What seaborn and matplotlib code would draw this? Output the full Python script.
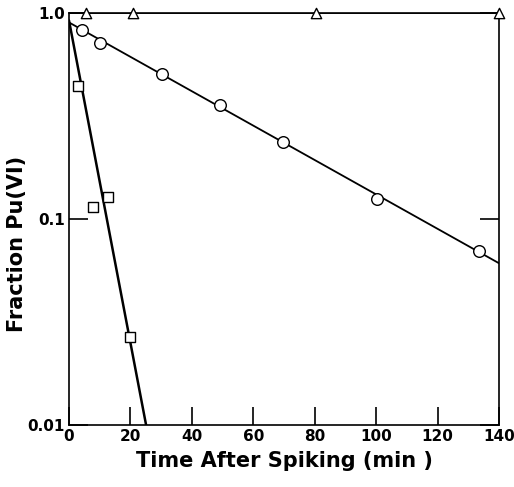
import numpy as np
import pandas as pd
import matplotlib
matplotlib.use("Agg")
import matplotlib.pyplot as plt
import seaborn as sns

# Data
tri_x = [5.5, 20.8, 80.4, 140.0]
tri_y = [1.0, 1.0, 1.0, 1.0]
circ_x = [4.2, 10.1, 30.3, 49.2, 69.7, 100.3, 133.5]
circ_y = [0.827, 0.715, 0.506, 0.357, 0.237, 0.125, 0.070]
sq_x = [2.9, 7.8, 12.7, 19.9]
sq_y = [0.44, 0.114, 0.128, 0.0267]

# fitted lines (endpoints)
tri_fit_x = [0, 140]
tri_fit_y = [1.0, 1.0]
circ_fit_x = [0, 140]
circ_fit_y = [0.90, 0.061]
sq_fit_x = [0, 25.1]
sq_fit_y = [0.92, 0.01]

x_ticks = [0, 20, 40, 60, 80, 100, 120, 140]
y_ticks = [0.01, 0.1, 1.0]
y_ticklabels = ["0.01", "0.1", "1.0"]

sns.set_style("ticks")
plt.rcParams['font.family'] = ['DejaVu Sans']
plt.rcParams['text.color'] = 'black'
plt.rcParams['xtick.color'] = 'black'
plt.rcParams['ytick.color'] = 'black'
plt.rcParams['axes.labelcolor'] = 'black'
plt.rcParams['axes.edgecolor'] = 'black'

fig = plt.figure(figsize=(5.14, 4.87), dpi=100)
ax = fig.add_axes([69/514, 1-425/487, 430/514, 412/487])

lw = 1.3
sns.lineplot(x=tri_fit_x, y=tri_fit_y, ax=ax, color="black", lw=lw)
sns.lineplot(x=circ_fit_x, y=circ_fit_y, ax=ax, color="black", lw=lw)
sns.lineplot(x=sq_fit_x, y=sq_fit_y, ax=ax, color="black", lw=1.8)

sns.scatterplot(x=tri_x, y=tri_y, ax=ax, marker="^", s=55, facecolor="white",
                edgecolor="black", linewidth=1.0, zorder=5, clip_on=False)
sns.scatterplot(x=circ_x, y=circ_y, ax=ax, marker="o", s=70, facecolor="white",
                edgecolor="black", linewidth=1.0, zorder=5, clip_on=False)
sns.scatterplot(x=sq_x, y=sq_y, ax=ax, marker="s", s=60, facecolor="white",
                edgecolor="black", linewidth=1.0, zorder=5, clip_on=False)

ax.set_yscale("log")
ax.set_xlim(0, 140)
ax.set_ylim(0.01, 1.0)
ax.set_xticks(x_ticks)
ax.set_xticklabels([str(v) for v in x_ticks], fontsize=11, fontweight="bold")
ax.set_yticks(y_ticks)
ax.set_yticklabels(y_ticklabels, fontsize=11, fontweight="bold")
ax.yaxis.set_minor_locator(matplotlib.ticker.NullLocator())
ax.tick_params(axis="both", direction="in", length=13, width=1.2, pad=3)
ax.tick_params(axis="y", right=True, length=14)
for s in ax.spines.values():
    s.set_linewidth(1.2)

ax.set_xlabel("Time After Spiking (min )", fontsize=15, fontweight="bold", labelpad=5)
ax.set_ylabel("Fraction Pu(VI)", fontsize=15, fontweight="bold")
ax.yaxis.set_label_coords(-0.097, 0.44)

fig.savefig("out.png", dpi=100)
